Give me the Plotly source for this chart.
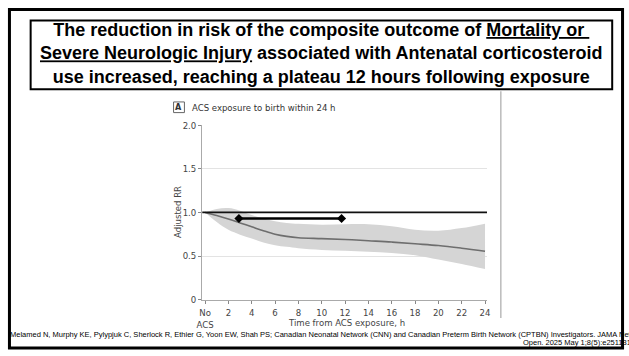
import plotly.graph_objects as go

# ---- data ----
hours = [0, 1, 2, 3, 4, 5, 6, 7, 8, 10, 12, 14, 16, 18, 20, 22, 24]
adj_rr = [1.0, 0.965, 0.925, 0.88, 0.835, 0.79, 0.75, 0.725, 0.71, 0.70, 0.69, 0.675, 0.66, 0.64, 0.62, 0.59, 0.555]
ci_upper = [1.0, 1.04, 1.05, 1.02, 0.97, 0.93, 0.90, 0.88, 0.87, 0.86, 0.865, 0.865, 0.84, 0.80, 0.79, 0.82, 0.87]
ci_lower = [1.0, 0.89, 0.80, 0.745, 0.70, 0.655, 0.625, 0.605, 0.59, 0.57, 0.56, 0.55, 0.535, 0.51, 0.46, 0.41, 0.35]
plateau_x = [2.9, 11.7]
plateau_y = [0.93, 0.93]
ref_rr = 1.0

x_tickvals = [0, 2, 4, 6, 8, 10, 12, 14, 16, 18, 20, 22, 24]
x_ticktext = ["No<br>ACS", "2", "4", "6", "8", "10", "12", "14", "16", "18", "20", "22", "24"]
y_tickvals = [0, 0.5, 1.0, 1.5, 2.0]
y_ticktext = ["0", "0.5", "1.0", "1.5", "2.0"]

title_html = ("<b>The reduction in risk of the composite outcome of "
              "<span style='text-decoration:underline'>Mortality or </span><br>"
              "<span style='text-decoration:underline'>Severe Neurologic Injury</span>"
              " associated with Antenatal corticosteroid<br>"
              "use increased, reaching a plateau 12 hours following exposure</b>")
panel_label = "A"
panel_title = "ACS exposure to birth within 24 h"
x_title = "Time from ACS exposure, h"
y_title = "Adjusted RR"
cite1 = ("Melamed N, Murphy KE, Pylypjuk C, Sherlock R, Ethier G, Yoon EW, Shah PS; Canadian Neonatal Network (CNN) "
         "and Canadian Preterm Birth Network (CPTBN) Investigators. JAMA Netw")
cite2 = "Open. 2025 May 1;8(5):e2511315"

W, H = 629, 356
def px(x):
    return x / W
def py(y):
    return 1 - y / H

NARROW = "DejaVu Sans Condensed, DejaVu Sans, sans-serif"
SANS = "Liberation Sans, Arial, sans-serif"
AX = "#444444"

fig = go.Figure()
fig.add_trace(go.Scatter(x=hours, y=ci_upper, mode="lines", line=dict(width=0, shape="spline"),
                         showlegend=False, hoverinfo="skip"))
fig.add_trace(go.Scatter(x=hours, y=ci_lower, mode="lines", line=dict(width=0, shape="spline"),
                         fill="tonexty", fillcolor="#d5d5d5", showlegend=False, hoverinfo="skip"))
fig.add_trace(go.Scatter(x=hours, y=adj_rr, mode="lines", line=dict(color="#6e6e6e", width=1.6, shape="spline"),
                         showlegend=False))
fig.add_trace(go.Scatter(x=[-0.25, 24.17], y=[ref_rr, ref_rr], mode="lines",
                         line=dict(color="#111111", width=1.8), showlegend=False, cliponaxis=False))
fig.add_trace(go.Scatter(x=plateau_x, y=plateau_y, mode="lines+markers",
                         line=dict(color="black", width=2.5),
                         marker=dict(symbol="diamond", size=7, color="black"), showlegend=False))

fig.update_layout(
    width=W, height=H, margin=dict(l=0, r=0, t=0, b=0),
    paper_bgcolor="white", plot_bgcolor="white",
    xaxis=dict(domain=[px(199), px(488)], range=[-0.25, 24.17], tickvals=x_tickvals, ticktext=x_ticktext,
               showgrid=False, zeroline=False, showline=True, linecolor="#aaaaaa", linewidth=1,
               ticks="outside", ticklen=3, tickcolor="#888888", ticklabelstandoff=1,
               tickfont=dict(family=NARROW, size=9.5, color=AX)),
    yaxis=dict(domain=[py(303), py(123)], range=[0, 2.0], tickvals=y_tickvals, ticktext=y_ticktext,
               showgrid=True, gridcolor="#e3e3e3", gridwidth=1, zeroline=False,
               showline=True, linecolor="#aaaaaa", linewidth=1,
               ticks="outside", ticklen=3, tickcolor="#888888",
               tickfont=dict(family=NARROW, size=9.5, color=AX)),
)

shapes = [
    dict(type="rect", xref="paper", yref="paper", x0=px(3.5), x1=px(625.5), y0=py(353), y1=py(3.5),
         line=dict(color="black", width=3)),
    dict(type="rect", xref="paper", yref="paper", x0=px(25), x1=px(615), y0=py(86), y1=py(15),
         line=dict(color="black", width=2)),
    dict(type="line", xref="paper", yref="paper", x0=px(502), x1=px(502), y0=py(322), y1=py(88),
         line=dict(color="#bbbbbb", width=1.5)),
    dict(type="rect", xref="paper", yref="paper", x0=px(170), x1=px(181), y0=py(110), y1=py(99),
         line=dict(color="#666666", width=1)),
]
fig.update_layout(shapes=shapes)

fig.add_annotation(xref="paper", yref="paper", x=px(320), y=py(48.5), text=title_html, showarrow=False,
                   xanchor="center", yanchor="middle", align="center",
                   font=dict(family=SANS, size=18, color="black"))
fig.add_annotation(xref="paper", yref="paper", x=px(175.5), y=py(104.5), text="<b>" + panel_label + "</b>",
                   showarrow=False, xanchor="center", yanchor="middle",
                   font=dict(family=NARROW, size=9, color="#333333"))
fig.add_annotation(xref="paper", yref="paper", x=px(187), y=py(104.5), text=panel_title,
                   showarrow=False, xanchor="left", yanchor="middle",
                   font=dict(family=NARROW, size=9.5, color="#333333"))
fig.add_annotation(xref="paper", yref="paper", x=px(345), y=py(327), text=x_title,
                   showarrow=False, xanchor="center", yanchor="middle",
                   font=dict(family=NARROW, size=9.5, color=AX))
fig.add_annotation(xref="paper", yref="paper", x=px(174), y=py(213), text=y_title, textangle=-90,
                   showarrow=False, xanchor="center", yanchor="middle",
                   font=dict(family=NARROW, size=9.5, color=AX))
fig.add_annotation(xref="paper", yref="paper", x=px(2), y=py(338.5), text=cite1,
                   showarrow=False, xanchor="left", yanchor="middle",
                   font=dict(family=SANS, size=7.5, color="black"))
fig.add_annotation(xref="paper", yref="paper", x=px(522), y=py(347), text=cite2,
                   showarrow=False, xanchor="left", yanchor="middle",
                   font=dict(family=SANS, size=7.5, color="black"))

fig.write_html("out.html", config={"displayModeBar": False},
               post_script="document.body.style.margin='0';")
